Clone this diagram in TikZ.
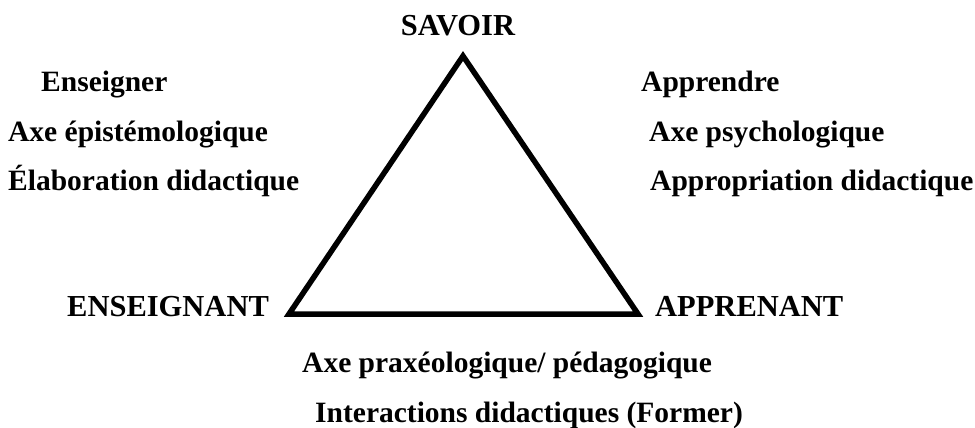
\documentclass[tikz,border=0pt]{standalone}
\usepackage{fontspec}
\setmainfont{Liberation Serif}
\begin{document}
\begin{tikzpicture}[x=1pt,y=-1pt,
  lbl/.style={inner sep=0pt,anchor=base west,font=\fontsize{29.5}{34}\selectfont\bfseries},
  caplbl/.style={inner sep=0pt,anchor=base west,font=\fontsize{30.5}{35}\selectfont\bfseries},
  tri/.style={line width=5.5pt,line join=miter}]
\useasboundingbox (0,0) rectangle (975,428);
\coordinate (top) at (463,56);
\coordinate (bl) at (289,314);
\coordinate (br) at (638,314);
\draw[tri] (top) -- (bl) -- (br) -- cycle;
\node[caplbl,anchor=base] (savoir) at (458,36) {SAVOIR};
\node[caplbl] (ens) at (67,316) {ENSEIGNANT};
\node[caplbl] (app) at (655,316) {APPRENANT};
\node[lbl] (l1) at (41,92) {Enseigner};
\node[lbl] (l2) at (8,141) {Axe épistémologique};
\node[lbl] (l3) at (8,190) {Élaboration didactique};
\node[lbl] (r1) at (641,92) {Apprendre};
\node[lbl] (r2) at (649,141) {Axe psychologique};
\node[lbl] (r3) at (650,190) {Appropriation didactique};
\node[lbl] (b1) at (302,372) {Axe praxéologique/ pédagogique};
\node[lbl] (b2) at (315,422) {Interactions didactiques (Former)};
\end{tikzpicture}
\end{document}
